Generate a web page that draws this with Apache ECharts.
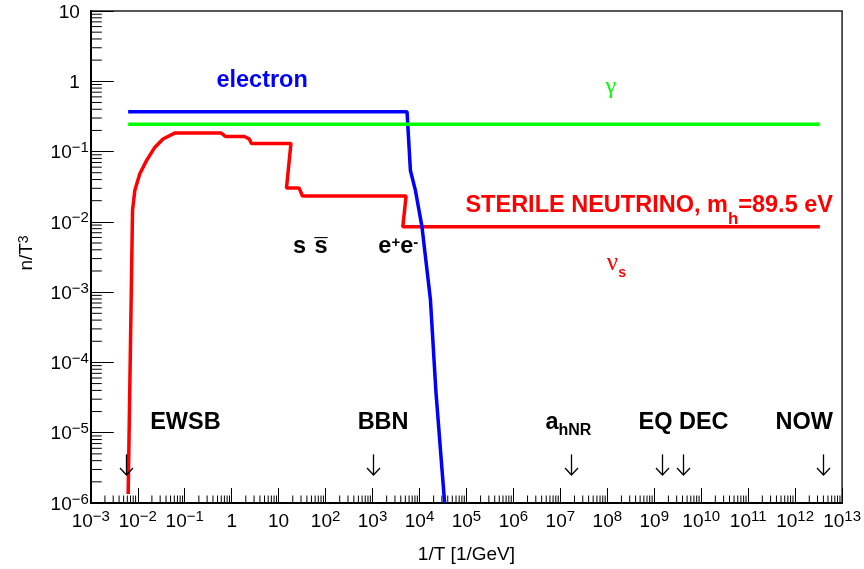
<!DOCTYPE html>
<html><head><meta charset="utf-8">
<script src="https://cdn.jsdelivr.net/npm/echarts@6/dist/echarts.min.js"></script>
<style>html,body{margin:0;padding:0;background:#fff}#c{width:864px;height:569px}</style>
</head><body><div id="c"></div>
<script>
// ---- data ----
const electronX = [0.00625, 5430, 6410, 8190, 11300, 17100, 22400, 34300];
const electronY = [0.370, 0.370, 0.0537, 0.0281, 0.00849, 7.84e-4, 3.81e-5, 1e-6];

const photonX = [0.00625, 3.36e12];
const photonY = [0.245, 0.245];

const sterileX = [0.00625, 0.00774, 0.00867, 0.01107, 0.01535, 0.0230, 0.0345, 0.0611, 0.598, 0.738, 1.87, 2.38, 2.63, 18.3, 14.7, 27.4, 32.2, 5180, 4410, 3.36e12];
const sterileY = [1.34e-6, 0.0146, 0.0281, 0.0483, 0.0743, 0.1146, 0.1507, 0.1833, 0.1833, 0.164, 0.164, 0.151, 0.1306, 0.1306, 0.0302, 0.0302, 0.0233, 0.0233, 0.00849, 0.00849];

// epochs marked with arrows (1/T in 1/GeV)
const epochNames = ['EWSB', 'BBN', 'a_hNR', 'EQ', 'DEC', 'NOW'];
const epochX = [0.00558, 1000, 1.72e7, 1.47e9, 4.08e9, 3.89e12];

// axis ranges
const xMin = 1e-3, xMax = 1e13, yMin = 1e-6, yMax = 10;

// text annotations (anchor in data coordinates, top-centre of text block)
const annotations = [
  {text: '{B|electron}', x: 4.56, y: 1.80, color: '#0000ff'},
  {text: '{G|\u03b3}', x: 1.21e8, y: 1.50, color: '#00ff00'},
  {text: '{B|STERILE NEUTRINO, m}{BH|h}{B|=89.5 eV}', x: 8.0e8, y: 0.0300, color: '#ff0000'},
  {text: '{NU|\u03bd}{BSs|s}', x: 1.6e8, y: 4.55e-3, color: '#ff0000'},
  {text: '{B|s \u200as}', x: 48.5, y: 7.97e-3, color: '#000000'},
  {text: '{B|\u00af}', x: 82.2, y: 7.3e-3, color: '#000000'},
  {text: '{B|e}{BS|+}{B|e}{BS|-}', x: 3620, y: 7.97e-3, color: '#000000'},
  {text: '{B|EWSB}', x: 0.106, y: 2.47e-5, color: '#000000'},
  {text: '{B|BBN}', x: 1720, y: 2.47e-5, color: '#000000'},
  {text: '{B|a}{BN|hNR}', x: 1.52e7, y: 2.47e-5, color: '#000000'},
  {text: '{B|EQ DEC}', x: 4.3e9, y: 2.47e-5, color: '#000000'},
  {text: '{B|NOW}', x: 1.6e12, y: 2.47e-5, color: '#000000'}
];
const arrowY = 3.51e-6;

// ---- build ----
const zip = (a, b) => a.map((v, i) => [v, b[i]]);
const FONT = 'Liberation Sans';

function powLabel(v) {
  const e = Math.round(Math.log10(v));
  if (e === 0) return '{P|1}';
  if (e === 1) return '{P|10}';
  return '{M|10}{S|' + (e < 0 ? '\u2212' + (-e) : String(e)) + '}';
}
const xRich = {
  M: {fontSize: 19, fontFamily: FONT, color: '#000', lineHeight: 22, padding: [3, 0, 0, 0], verticalAlign: 'top'},
  P: {fontSize: 19, fontFamily: FONT, color: '#000', lineHeight: 22, padding: [3, 0, 0, 0], verticalAlign: 'top'},
  S: {fontSize: 15, fontFamily: FONT, color: '#000', lineHeight: 15, verticalAlign: 'top'}
};
const yRich = {
  M: {fontSize: 19, fontFamily: FONT, color: '#000', lineHeight: 22, padding: [3, 0, 3, 0], verticalAlign: 'top'},
  P: {fontSize: 19, fontFamily: FONT, color: '#000', lineHeight: 22, padding: [3, 9, 3, 0], verticalAlign: 'top'},
  S: {fontSize: 15, fontFamily: FONT, color: '#000', lineHeight: 15, verticalAlign: 'top'}
};

const xMinor = [];
for (let e = Math.round(Math.log10(xMin)); e < Math.round(Math.log10(xMax)); e++)
  for (let m = 2; m <= 9; m++) xMinor.push(m * Math.pow(10, e));
const yMinor = [];
for (let e = Math.round(Math.log10(yMin)); e < Math.round(Math.log10(yMax)); e++)
  for (let m = 2; m <= 9; m++) yMinor.push(m * Math.pow(10, e));

const annRichBase = {
  B: {fontSize: 23.5, fontWeight: 'bold', fontFamily: FONT, lineHeight: 26, padding: [6, 0, 0, 0], verticalAlign: 'top'},
  BS: {fontSize: 15, fontWeight: 'bold', fontFamily: FONT, lineHeight: 16, padding: [7, 0, 0, 0], verticalAlign: 'top'},
  BH: {fontSize: 17, fontWeight: 'bold', fontFamily: FONT, lineHeight: 18, padding: [23, 0, 0, 0], verticalAlign: 'top'},
  BN: {fontSize: 16, fontWeight: 'bold', fontFamily: FONT, lineHeight: 17, padding: [18, 0, 0, 0], verticalAlign: 'top'},
  BSs: {fontSize: 14, fontWeight: 'bold', fontFamily: FONT, lineHeight: 15, padding: [21, 0, 0, 0], verticalAlign: 'top'},
  G: {fontSize: 24, fontFamily: 'Liberation Serif', lineHeight: 26, padding: [6, 0, 0, 0], verticalAlign: 'top'},
  NU: {fontSize: 25, fontFamily: 'Liberation Serif', lineHeight: 26, padding: [6, 0, 0, 0], verticalAlign: 'top'}
};
function richWithColor(color) {
  const r = {};
  Object.keys(annRichBase).forEach(k => { r[k] = Object.assign({color: color, textBorderWidth: 0}, annRichBase[k]); });
  return r;
}

const chart = echarts.init(document.getElementById('c'), null, {renderer: 'canvas'});
chart.setOption({
  animation: false,
  backgroundColor: '#ffffff',
  grid: {left: 90.8, right: 19, top: 9.3, bottom: 64.3, show: true, borderColor: '#222', borderWidth: 1.5, backgroundColor: 'transparent'},
  xAxis: {
    type: 'log', logBase: 10, min: xMin, max: xMax, interval: 1,
    name: '1/T [1/GeV]', nameLocation: 'middle', nameGap: 42,
    nameTextStyle: {fontSize: 19, fontFamily: FONT, color: '#000'},
    axisLine: {show: true, onZero: false, lineStyle: {color: '#000', width: 2}},
    axisTick: {show: true, inside: true, length: 15, lineStyle: {color: '#000', width: 1}},
    minorTick: {show: false},
    splitLine: {show: false},
    axisLabel: {show: true, margin: 6, showMinLabel: true, showMaxLabel: true, formatter: powLabel, rich: xRich}
  },
  yAxis: {
    type: 'log', logBase: 10, min: yMin, max: yMax, interval: 1,
    name: 'n/T{S|3}', nameLocation: 'middle', nameGap: 55,
    nameTextStyle: {fontSize: 19, fontFamily: FONT, color: '#000', padding: [0, 0, 0, 8],
      rich: {S: {fontSize: 14, fontFamily: FONT, color: '#000', lineHeight: 14, verticalAlign: 'top'}}},
    axisLine: {show: true, onZero: false, lineStyle: {color: '#000', width: 2}},
    axisTick: {show: true, inside: true, length: 23, lineStyle: {color: '#000', width: 1}},
    minorTick: {show: false},
    splitLine: {show: false},
    axisLabel: {show: true, margin: 2, showMinLabel: true, showMaxLabel: true, formatter: powLabel, rich: yRich}
  },
  series: [
    {
      type: 'custom', name: 'xMinorTicks', silent: true, clip: false, z: 3,
      data: xMinor.map(v => [v, yMin]),
      renderItem: (p, api) => {
        const c = api.coord([api.value(0), api.value(1)]);
        return {type: 'line', shape: {x1: c[0], y1: c[1], x2: c[0], y2: c[1] - 7.5}, style: {stroke: '#000', lineWidth: 1}};
      }
    },
    {
      type: 'custom', name: 'yMinorTicks', silent: true, clip: false, z: 3,
      data: yMinor.map(v => [xMin, v]),
      renderItem: (p, api) => {
        const c = api.coord([api.value(0), api.value(1)]);
        return {type: 'line', shape: {x1: c[0], y1: c[1], x2: c[0] + 11, y2: c[1]}, style: {stroke: '#000', lineWidth: 1}};
      }
    },
    {
      type: 'line', name: 'sterile neutrino', data: zip(sterileX, sterileY), symbol: 'none', z: 4,
      lineStyle: {color: '#ff0000', width: 3.5}, itemStyle: {color: '#ff0000'}
    },
    {
      type: 'line', name: 'electron', data: zip(electronX, electronY), symbol: 'none', z: 5,
      lineStyle: {color: '#0000ff', width: 3.5}, itemStyle: {color: '#0000ff'}
    },
    {
      type: 'line', name: 'photon', data: zip(photonX, photonY), symbol: 'none', z: 6,
      lineStyle: {color: '#00ff00', width: 3.5}, itemStyle: {color: '#00ff00'}
    },
    {
      type: 'scatter', name: 'annotations', silent: true, z: 10, symbolSize: 1,
      itemStyle: {color: 'rgba(0,0,0,0)', opacity: 1},
      label: {show: true, position: [0, 0], align: 'center', verticalAlign: 'top', textBorderWidth: 0},
      data: annotations.map(a => ({value: [a.x, a.y],
        label: {formatter: a.text, color: a.color, textBorderWidth: 0, rich: richWithColor(a.color)}}))
    },
    {
      type: 'custom', name: 'epochs', silent: true, clip: false, z: 10,
      data: epochX.map((x, i) => ({name: epochNames[i], value: [x, arrowY]})),
      renderItem: (p, api) => {
        const c = api.coord([api.value(0), api.value(1)]);
        const x = Math.round(c[0]) + 0.5, top = c[1] - 10.3, tip = c[1] + 10.3;
        return {type: 'group', children: [
          {type: 'line', shape: {x1: x, y1: top, x2: x, y2: tip}, style: {stroke: '#000', lineWidth: 1.3}},
          {type: 'polyline', shape: {points: [[x - 6.5, tip - 7], [x, tip], [x + 6.5, tip - 7]]}, style: {stroke: '#000', lineWidth: 1.3, fill: null}}
        ]};
      }
    }
  ]
});
</script>
</body></html>
